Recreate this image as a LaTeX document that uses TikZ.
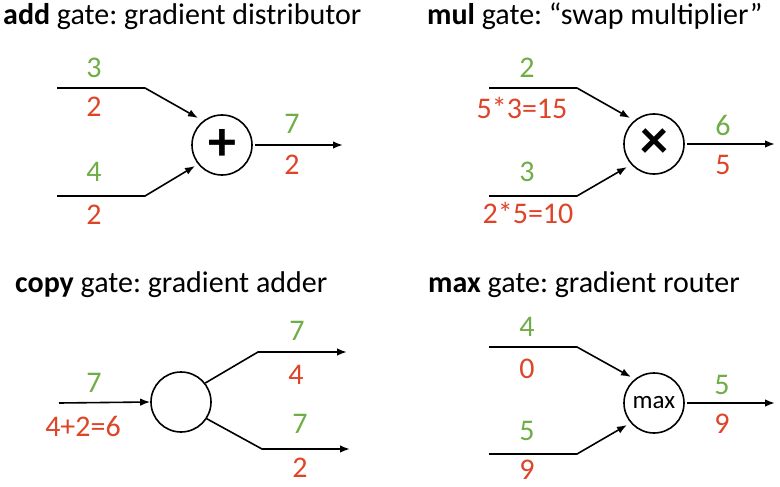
\documentclass[tikz,border=0pt]{standalone}
\usepackage{fontspec}
\setmainfont{Carlito}
\usetikzlibrary{arrows.meta}
\definecolor{fwd}{RGB}{112,173,71}
\definecolor{bwd}{RGB}{222,68,40}
\frenchspacing
\begin{document}
\begin{tikzpicture}[x=1pt,y=-1pt,
  wire/.style={line width=1.6pt},
  arr/.style={wire,-{Latex[length=10pt,width=7.5pt]}},
  gate/.style={circle,draw,line width=1.6pt,minimum size=60pt,inner sep=0pt},
  sym/.style={font=\fontsize{56}{58}\selectfont\bfseries},
  fv/.style={text=fwd,inner sep=0pt,font=\fontsize{30}{36}\selectfont},
  bv/.style={text=bwd,inner sep=0pt,font=\fontsize{30}{36}\selectfont},
  title/.style={anchor=base west,inner sep=0pt,font=\fontsize{30}{36}\selectfont}]
\useasboundingbox (0,0) rectangle (780,487);

% ---------- add gate ----------
\node[title] (t1) at (3,25) {\textbf{add} gate: gradient distributor};
\node[gate] (add) at (222,145) {};
\node[sym] (plus) at (222,145) {+};
\coordinate (a1s) at (57,88);  \coordinate (a1b) at (145,88);  \coordinate (a1e) at (198,118);
\coordinate (a2s) at (57,196); \coordinate (a2b) at (145,196); \coordinate (a2e) at (195,166);
\coordinate (aoe) at (343,145);
\draw[arr] (a1s) -- (a1b) -- (a1e);
\draw[arr] (a2s) -- (a2b) -- (a2e);
\draw[arr] (add.east) ++(2,0) -- (aoe);
\node[fv] (a1f) at (94,68) {3};
\node[bv] (a1g) at (94,107) {2};
\node[fv] (a2f) at (94,172) {4};
\node[bv] (a2g) at (94,215) {2};
\node[fv] (aof) at (292,124) {7};
\node[bv] (aog) at (292,165) {2};

% ---------- mul gate ----------
\node[title] (t2) at (427,25) {\textbf{mul} gate: “swap multiplier”};
\node[gate] (mul) at (654,144) {};
\node[sym] (times) at (654,144) {×};
\coordinate (m1s) at (489,88);  \coordinate (m1b) at (577,88);  \coordinate (m1e) at (630,118);
\coordinate (m2s) at (489,196); \coordinate (m2b) at (577,196); \coordinate (m2e) at (627,167);
\coordinate (moe) at (775,144);
\draw[arr] (m1s) -- (m1b) -- (m1e);
\draw[arr] (m2s) -- (m2b) -- (m2e);
\draw[arr] (mul.east) ++(2,0) -- (moe);
\node[fv] (m1f) at (527,68) {2};
\node[bv] (m1g) at (522,108) {5*3=15};
\node[fv] (m2f) at (527,172) {3};
\node[bv] (m2g) at (528,213) {2*5=10};
\node[fv] (mof) at (723,125) {6};
\node[bv] (mog) at (723,165) {5};

% ---------- copy gate ----------
\node[title] (t3) at (15,292) {\textbf{copy} gate: gradient adder};
\node[gate] (copy) at (181,402) {};
\coordinate (cis) at (59,403);
\coordinate (c1b) at (258,352); \coordinate (c1e) at (347,352);
\coordinate (c2b) at (262,449); \coordinate (c2e) at (350,449);
\draw[arr] (cis) -- (copy.west);
\draw[arr] (copy.38) -- (c1b) -- (c1e);
\draw[arr] (copy.-33) -- (c2b) -- (c2e);
\node[fv] (cif) at (94,383) {7};
\node[bv] (cig) at (83,426) {4+2=6};
\node[fv] (c1f) at (297,331) {7};
\node[bv] (c1g) at (296,375) {4};
\node[fv] (c2f) at (300,424) {7};
\node[bv] (c2g) at (300,468) {2};

% ---------- max gate ----------
\node[title] (t4) at (428,292) {\textbf{max} gate: gradient router};
\node[gate,font=\fontsize{25}{30}\selectfont] (max) at (654,403) {max};
\coordinate (x1s) at (489,347); \coordinate (x1b) at (577,347); \coordinate (x1e) at (631,377);
\coordinate (x2s) at (489,454); \coordinate (x2b) at (577,454); \coordinate (x2e) at (627,425);
\coordinate (xoe) at (775,403);
\draw[arr] (x1s) -- (x1b) -- (x1e);
\draw[arr] (x2s) -- (x2b) -- (x2e);
\draw[arr] (max.east) ++(2,0) -- (xoe);
\node[fv] (x1f) at (527,327) {4};
\node[bv] (x1g) at (527,369) {0};
\node[fv] (x2f) at (527,431) {5};
\node[bv] (x2g) at (527,470) {9};
\node[fv] (xof) at (722,385) {5};
\node[bv] (xog) at (722,424) {9};
\end{tikzpicture}
\end{document}
